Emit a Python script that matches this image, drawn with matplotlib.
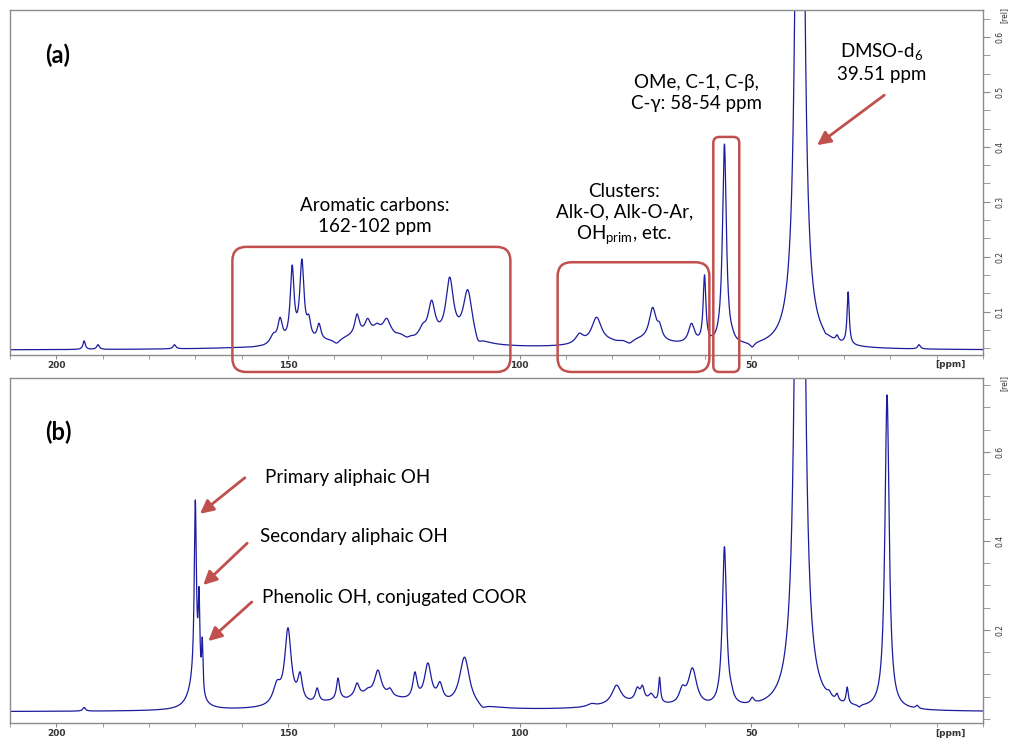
import numpy as np
import matplotlib.pyplot as plt
from matplotlib import patches
from matplotlib.transforms import IdentityTransform
from matplotlib.ticker import MultipleLocator, FixedLocator

plt.rcParams['font.family'] = ['Lato', 'DejaVu Sans']
plt.rcParams['mathtext.fontset'] = 'custom'
plt.rcParams['mathtext.rm'] = 'Lato'

# (a) 13C spectrum: shift [ppm], intensity at peak top [rel], half width [ppm]
a_ppm = [194.0, 191.0, 174.5, 158.0, 155.3, 153.2, 151.7, 149.1, 147.0, 145.5,
         143.3, 139.5, 137.7, 135.1, 134.0, 132.8, 130.8, 128.7, 126.9, 124.4,
         122.6, 120.9, 119.0, 115.1, 111.2, 109.0,
         87.1, 83.4, 79.1, 76.3, 71.3, 69.8, 62.9, 60.1, 55.8, 54.1, 49.8,
         39.51, 34.0, 31.5, 29.1, 13.8]
a_top = [0.047, 0.040, 0.040, 0.036, 0.040, 0.061, 0.090, 0.185, 0.196, 0.095,
         0.079, 0.043, 0.054, 0.096, 0.074, 0.088, 0.079, 0.088, 0.063, 0.054,
         0.058, 0.079, 0.121, 0.163, 0.140, 0.049,
         0.061, 0.090, 0.048, 0.043, 0.108, 0.081, 0.079, 0.167, 0.405, 0.072, 0.036,
         3.0, 0.061, 0.058, 0.136, 0.040]
a_hw = [0.3, 0.35, 0.35, 1.5, 0.9, 0.8, 0.6, 0.5, 0.55, 0.5,
        0.5, 0.9, 0.6, 0.6, 0.5, 0.7, 0.8, 0.9, 0.8, 0.9,
        0.8, 0.8, 0.9, 1.0, 1.2, 0.8,
        1.0, 1.3, 1.0, 1.0, 0.9, 0.6, 0.8, 0.35, 0.5, 0.5, 0.6,
        0.58, 0.35, 0.35, 0.28, 0.35]
a_base = 0.030
# broad humps under the aromatic and carbohydrate regions
a_broad_ppm = [130.0, 75.0]
a_broad_amp = [0.030, 0.016]
a_broad_hw = [12.0, 9.0]

# (b) 13C spectrum
b_ppm = [194.0, 170.0, 169.2, 168.5,
         152.4, 150.0, 147.4, 143.7, 139.2, 137.3, 135.1, 132.8, 130.6, 128.0,
         122.6, 119.8, 117.2, 111.9, 108.0,
         87.1, 84.5, 79.1, 74.6, 73.5, 71.6, 69.8, 64.9, 62.7, 55.8, 54.3, 49.8,
         39.51, 33.2, 31.5, 29.3, 26.7, 20.7, 14.2]
b_top = [0.026, 0.492, 0.297, 0.184,
         0.087, 0.205, 0.106, 0.070, 0.092, 0.049, 0.081, 0.070, 0.110, 0.070,
         0.106, 0.126, 0.084, 0.139, 0.027,
         0.027, 0.035, 0.076, 0.072, 0.076, 0.058, 0.094, 0.076, 0.115, 0.387, 0.081, 0.049,
         4.3, 0.065, 0.058, 0.072, 0.027, 0.728, 0.031]
b_hw = [0.35, 0.28, 0.22, 0.18,
        1.0, 0.85, 0.6, 0.45, 0.4, 0.6, 0.6, 0.8, 0.9, 0.6,
        0.55, 0.9, 0.7, 1.3, 0.9,
        1.0, 1.0, 1.2, 0.6, 0.5, 0.7, 0.25, 0.8, 1.1, 0.55, 0.5, 0.45,
        0.58, 0.5, 0.35, 0.28, 0.35, 0.55, 0.35]
b_base = 0.016
b_broad_ppm = [132.0, 170.3, 75.0]
b_broad_amp = [0.032, 0.050, 0.016]
b_broad_hw = [12.0, 1.5, 9.0]

LINE = '#1c1c9e'
RED = '#c0504d'
FRAME = '#8c8c8c'


def lorentz(x, c, w):
    return w ** 2 / ((x - c) ** 2 + w ** 2)


def spectrum(x, ppm, top, hw, base, bppm, bamp, bhw):
    ppm, top, hw = np.asarray(ppm), np.asarray(top), np.asarray(hw)

    def broad(v):
        return sum(a * lorentz(v, c, w) for c, a, w in zip(bppm, bamp, bhw))

    # amplitudes so that the summed lines reach the listed tops
    m = lorentz(ppm[:, None], ppm[None, :], hw[None, :])
    amp = np.linalg.solve(m, top - base - broad(ppm))
    return base + broad(x) + lorentz(x[:, None], ppm[None, :], hw[None, :]) @ amp


def style_axes(ax, ylim, yticks, yminor):
    ax.set_xlim(210, 0)
    ax.set_ylim(*ylim)
    ax.xaxis.set_major_locator(FixedLocator([200, 150, 100, 50]))
    ax.xaxis.set_minor_locator(MultipleLocator(10))
    ax.yaxis.set_major_locator(FixedLocator(yticks))
    ax.yaxis.set_minor_locator(MultipleLocator(yminor))
    ax.yaxis.tick_right()
    for s in ax.spines.values():
        s.set_color(FRAME)
        s.set_linewidth(1.0)
    ax.tick_params(which='both', colors=FRAME, direction='out')
    ax.tick_params(axis='x', which='both', length=3, labelsize=6.5,
                   labelcolor='#333333', pad=1)
    ax.tick_params(axis='y', which='both', length=5, labelsize=5.5,
                   labelcolor='#333333', labelrotation=90, pad=4)
    for lab in ax.get_xticklabels():
        lab.set_fontweight('bold')
        lab.set_family('DejaVu Sans')
    for lab in ax.get_yticklabels():
        lab.set_family('DejaVu Sans')
        lab.set_va('center')


def red_box(fig, ax, ppm_left, ppm_right, top, below=17, radius=14):
    x0, y_top = ax.transData.transform((ppm_left, top))
    x1, _ = ax.transData.transform((ppm_right, top))
    y_axis = ax.transAxes.transform((0, 0))[1]
    y0 = y_axis - below
    box = patches.FancyBboxPatch((x0, y0), x1 - x0, y_top - y0,
                                 boxstyle=f'round,pad=0,rounding_size={radius}',
                                 transform=IdentityTransform(), fill=False,
                                 ec=RED, lw=1.8, zorder=5)
    fig.add_artist(box)


def red_arrow(ax, head, tail):
    ax.annotate('', xy=head, xytext=tail, annotation_clip=False,
                arrowprops=dict(arrowstyle='-|>', color=RED, lw=2,
                                mutation_scale=20, shrinkA=0, shrinkB=0))


fig = plt.figure(figsize=(10.09, 7.38), dpi=100)
ax_a = fig.add_axes([0.0099, 0.519, 0.9643, 0.4675])
ax_b = fig.add_axes([0.0099, 0.0203, 0.9643, 0.4675])

x = np.arange(210.0, 0.0, -0.02)
ax_a.plot(x, spectrum(x, a_ppm, a_top, a_hw, a_base,
                      a_broad_ppm, a_broad_amp, a_broad_hw), color=LINE, lw=0.9)
ax_b.plot(x, spectrum(x, b_ppm, b_top, b_hw, b_base,
                      b_broad_ppm, b_broad_amp, b_broad_hw), color=LINE, lw=0.9)

style_axes(ax_a, (0.0213, 0.649), [0.1, 0.2, 0.3, 0.4, 0.5, 0.6], 0.1 / 3)
style_axes(ax_b, (-0.009, 0.766), [0.2, 0.4, 0.6], 0.05)

for ax in (ax_a, ax_b):
    ax.text(0.9665, -0.029, '[ppm]', transform=ax.transAxes, fontsize=6.5,
            fontweight='bold', family='DejaVu Sans', color='#333333',
            ha='center', va='center')
    ax.text(1.022, 0.985, '[rel]', transform=ax.transAxes, fontsize=5.5,
            family='DejaVu Sans', color='#333333', rotation=90,
            ha='center', va='center')

ax_a.text(0.036, 0.87, '(a)', transform=ax_a.transAxes, fontsize=17,
          fontweight='bold', ha='left', va='center')
ax_b.text(0.036, 0.843, '(b)', transform=ax_b.transAxes, fontsize=17,
          fontweight='bold', ha='left', va='center')

# annotations, panel (a)
txt = dict(fontsize=13.5, ha='center', va='center', color='black', linespacing=1.25)
ax_a.text(131.2, 0.274, 'Aromatic carbons:\n162-102 ppm', **txt)
ax_a.text(77.4, 0.276, 'Clusters:\nAlk-O, Alk-O-Ar,\nOH$_{\\mathrm{prim}}$, etc.', **txt)
ax_a.text(61.9, 0.498, 'OMe, C-1, C-\u03b2,\nC-\u03b3: 58-54 ppm', **txt)
ax_a.text(21.8, 0.554, 'DMSO-d$_{\\mathrm{6}}$\n39.51 ppm', **txt)
red_arrow(ax_a, (35.8, 0.403), (21.3, 0.494))

red_box(fig, ax_a, 162.0, 102.0, 0.218)
red_box(fig, ax_a, 91.8, 59.05, 0.190)
red_box(fig, ax_a, 58.2, 52.6, 0.418, radius=6)

# annotations, panel (b)
txt_b = dict(fontsize=13.5, ha='left', va='center', color='black')
ax_b.text(155.0, 0.542, 'Primary aliphaic OH', **txt_b)
ax_b.text(156.0, 0.409, 'Secondary aliphaic OH', **txt_b)
ax_b.text(155.6, 0.274, 'Phenolic OH, conjugated COOR', **txt_b)
red_arrow(ax_b, (169.0, 0.461), (159.3, 0.542))
red_arrow(ax_b, (168.3, 0.301), (158.8, 0.395))
red_arrow(ax_b, (167.2, 0.175), (157.8, 0.263))

fig.savefig('out.png', dpi=100)
